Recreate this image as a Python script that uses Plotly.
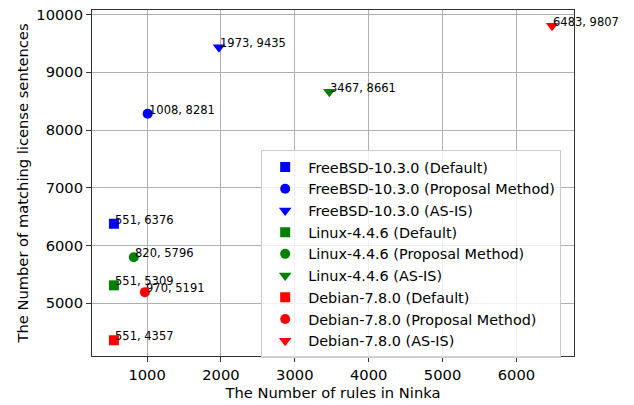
import plotly.graph_objects as go

distros = ["FreeBSD-10.3.0", "Linux-4.4.6", "Debian-7.8.0"]
methods = ["Default", "Proposal Method", "AS-IS"]
colors = ["blue", "green", "red"]
symbols = ["square", "circle", "triangle-down"]
marker_sizes = [10, 10, 11]

# rules (x) and matching sentences (y), per distro, per method
rules = {
    "FreeBSD-10.3.0": [551, 1008, 1973],
    "Linux-4.4.6": [551, 820, 3467],
    "Debian-7.8.0": [551, 970, 6483],
}
sentences = {
    "FreeBSD-10.3.0": [6376, 8281, 9435],
    "Linux-4.4.6": [5309, 5796, 8661],
    "Debian-7.8.0": [4357, 5191, 9807],
}

x_ticks = [1000, 2000, 3000, 4000, 5000, 6000]
y_ticks = [5000, 6000, 7000, 8000, 9000, 10000]

FS = 14.7

fig = go.Figure()
annotations = []
for d, c in zip(distros, colors):
    for i, (m, s) in enumerate(zip(methods, symbols)):
        xv, yv = rules[d][i], sentences[d][i]
        fig.add_trace(go.Scatter(
            x=[xv], y=[yv], mode="markers", name=f"{d} ({m})",
            marker=dict(color=c, symbol=s, size=marker_sizes[i], line=dict(width=0)),
        ))
        annotations.append(dict(
            x=xv, y=yv, xref="x", yref="y", text=f"{xv}, {yv}",
            showarrow=False, xanchor="left", yanchor="bottom",
            xshift=-1, yshift=-5,
            font=dict(family="DejaVu Sans", size=11.5, color="black"),
        ))

all_x = [v for d in distros for v in rules[d]]
all_y = [v for d in distros for v in sentences[d]]
mx = 0.05 * (max(all_x) - min(all_x))
my = 0.05 * (max(all_y) - min(all_y))

axis_common = dict(
    showgrid=True, gridcolor="#b0b0b0", gridwidth=1.2,
    showline=True, linecolor="#333333", linewidth=1, mirror=True,
    ticks="outside", ticklen=5, tickwidth=1, tickcolor="#333333",
    zeroline=False, automargin=False, tickformat="d",
    tickfont=dict(family="DejaVu Sans", size=FS, color="black"),
)

fig.update_layout(
    width=634, height=405,
    margin=dict(l=92, r=60, t=10, b=49),
    paper_bgcolor="white", plot_bgcolor="white",
    font=dict(family="DejaVu Sans", color="black"),
    xaxis=dict(range=[min(all_x) - mx, max(all_x) + mx], tickvals=x_ticks,
               title=dict(text="The Number of rules in Ninka", font=dict(size=FS), standoff=6),
               **axis_common),
    yaxis=dict(range=[min(all_y) - my, max(all_y) + my], tickvals=y_ticks,
               title=dict(text="The Number of matching license sentences", font=dict(size=FS), standoff=4),
               **axis_common),
    legend=dict(x=0.351, y=0.595, xanchor="left", yanchor="top",
                bgcolor="rgba(255,255,255,0.8)", bordercolor="#cccccc", borderwidth=1,
                itemwidth=36,
                font=dict(family="DejaVu Sans", size=14.4, color="black")),
    annotations=annotations,
    showlegend=True,
)

fig.write_html("out.html", config={"displayModeBar": False},
               post_script="document.body.style.margin='0';document.body.style.padding='0';")
